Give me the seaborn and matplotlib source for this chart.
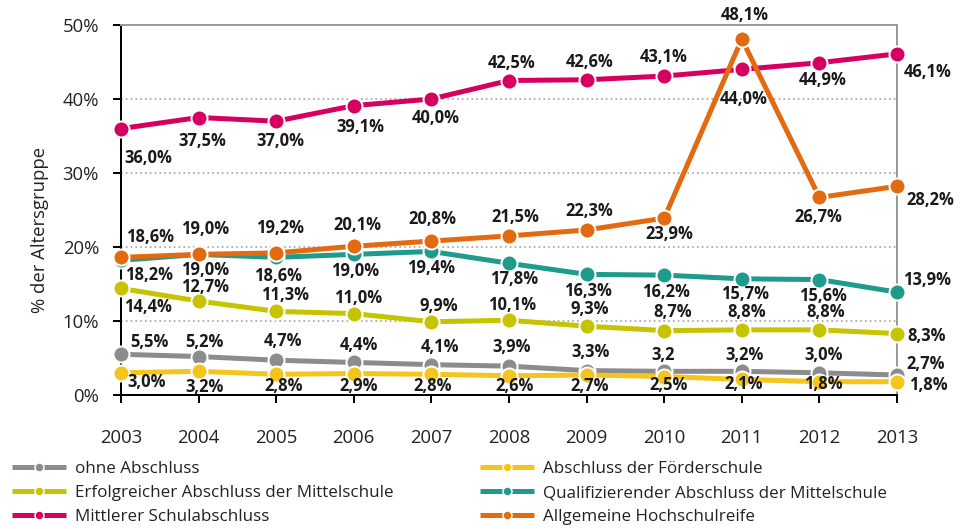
import numpy as np
import pandas as pd
import matplotlib
matplotlib.use("Agg")
import matplotlib.pyplot as plt
from matplotlib.lines import Line2D
import seaborn as sns

years = [2003, 2004, 2005, 2006, 2007, 2008, 2009, 2010, 2011, 2012, 2013]
series_names = ["ohne Abschluss", "Abschluss der Förderschule",
                "Erfolgreicher Abschluss der Mittelschule",
                "Qualifizierender Abschluss der Mittelschule",
                "Mittlerer Schulabschluss", "Allgemeine Hochschulreife"]
ohne = [5.5, 5.2, 4.7, 4.4, 4.1, 3.9, 3.3, 3.2, 3.2, 3.0, 2.7]
foerder = [3.0, 3.2, 2.8, 2.9, 2.8, 2.6, 2.7, 2.5, 2.1, 1.8, 1.8]
erfolg = [14.4, 12.7, 11.3, 11.0, 9.9, 10.1, 9.3, 8.7, 8.8, 8.8, 8.3]
quali = [18.2, 19.0, 18.6, 19.0, 19.4, 17.8, 16.3, 16.2, 15.7, 15.6, 13.9]
mittlerer = [36.0, 37.5, 37.0, 39.1, 40.0, 42.5, 42.6, 43.1, 44.0, 44.9, 46.1]
abitur = [18.6, 19.0, 19.2, 20.1, 20.8, 21.5, 22.3, 23.9, 48.1, 26.7, 28.2]
yticks = [0, 10, 20, 30, 40, 50]
ytick_labels = ["0%", "10%", "20%", "30%", "40%", "50%"]
ylabel = "% der Altersgruppe"

values = [ohne, foerder, erfolg, quali, mittlerer, abitur]
colors = ["#8c8c8c", "#f4c51c", "#c6c300", "#1f9b8b", "#d5005f", "#e26a10"]
palette = dict(zip(series_names, colors))

# label offsets in pixels (dx, dy up-positive)
offsets = {
    "Mittlerer Schulabschluss": [(27, -29), (4, -24), (4, -20), (7, -21), (4, -19), (3, 18), (3, 18), (-1, 19), (2, -30), (3, -17), (31, -18)],
    "Allgemeine Hochschulreife": [(29, 20), (6, 25), (4, 25), (4, 21), (1, 22), (6, 19), (3, 19), (5, -16), (3, 24), (-1, -20), (33, -14)],
    "Qualifizierender Abschluss der Mittelschule": [(28, -15), (6, -16), (2, -19), (1, -17), (0, -17), (5, -16), (1, -17), (2, -17), (3, -15), (4, -16), (30, 12)],
    "Erfolgreicher Abschluss der Mittelschule": [(27, -19), (6, 14), (9, 16), (4, 16), (7, 16), (3, 15), (3, 17), (8, 19), (5, 18), (6, 18), (30, -2)],
    "ohne Abschluss": [(28, 12), (6, 15), (7, 19), (5, 17), (9, 18), (3, 19), (4, 19), (-1, 16), (3, 16), (4, 18), (29, 11)],
    "Abschluss der Förderschule": [(26, -9), (6, -16), (7, -12), (5, -12), (1, -12), (6, -10), (3, -11), (4, -8), (2, -5), (4, -2), (31, -3)],
}
no_percent = {("ohne Abschluss", 2010)}

rows = []
for name, vals in zip(series_names, values):
    for y, v in zip(years, vals):
        rows.append({"Jahr": y, "Wert": v, "Reihe": name})
df = pd.DataFrame(rows)

DPI = 72
W, H = 966, 529
sns.set_theme(style="white")
plt.rcParams["font.family"] = ["Open Sans", "DejaVu Sans"]
fig = plt.figure(figsize=(W / DPI, H / DPI), dpi=DPI)
ax = fig.add_axes([121 / W, (H - 395) / H, (897 - 121) / W, (395 - 25) / H])

sns.lineplot(data=df, x="Jahr", y="Wert", hue="Reihe", hue_order=series_names,
             palette=palette, marker="o", markersize=16, markeredgecolor="white",
             markeredgewidth=2, linewidth=5, legend=False, ax=ax)
for ln in ax.lines:
    ln.set_clip_on(False)
    ln.set_zorder(3)
    ln.set_solid_capstyle("butt")

ax.set_xlim(2003, 2013)
ax.set_ylim(0, 50)
ax.set_xticks(years)
ax.set_xticklabels([str(y) for y in years], fontsize=18.5, color="#222222")
ax.set_yticks(yticks)
ax.set_yticklabels(ytick_labels, fontsize=18.5, color="#222222")
ax.set_xlabel("")
ax.set_ylabel("")
ax.tick_params(axis="x", direction="out", length=8, width=2, color="black", pad=26, bottom=True)
ax.tick_params(axis="y", direction="out", length=8, width=2, color="black", pad=14, left=True)

for yv in [10, 20, 30, 40]:
    ax.axhline(yv, color="#9a9a9a", lw=1.6, ls=(0, (1, 2)), zorder=1)

for s in ["left", "bottom"]:
    ax.spines[s].set_color("black")
    ax.spines[s].set_linewidth(2)
for s in ["top", "right"]:
    ax.spines[s].set_color("#9a9a9a")
    ax.spines[s].set_linewidth(2)
    ax.spines[s].set_visible(True)

for name, vals in zip(series_names, values):
    for y, v, (dx, dy) in zip(years, vals, offsets[name]):
        txt = f"{v:.1f}".replace(".", ",")
        if (name, y) not in no_percent:
            txt += "%"
        ax.annotate(txt, xy=(y, v), xytext=(dx, dy), textcoords="offset points",
                    ha="center", va="center", fontsize=16.5, fontweight="bold",
                    color="#1a1a1a", annotation_clip=False, zorder=5)

fig.text(40 / W, 1 - 230 / H, ylabel, rotation=90, ha="center", va="center",
         fontsize=18.5, color="#222222")

def handle(c):
    return Line2D([0], [0], color=c, lw=5, marker="o", markersize=9,
                  markeredgecolor="white", markeredgewidth=1.5, solid_capstyle="butt")

left_idx = [0, 2, 4]
right_idx = [1, 3, 5]
for idx, x0 in [(left_idx, 12), (right_idx, 480)]:
    leg = fig.legend([handle(colors[i]) for i in idx], [series_names[i] for i in idx],
                     loc="center left", bbox_to_anchor=(x0 / W, 1 - 493 / H),
                     frameon=False, fontsize=17, handlelength=3.2, handletextpad=0.5,
                     labelspacing=0.46, borderpad=0, borderaxespad=0)
    for t in leg.get_texts():
        t.set_color("#222222")

fig.savefig("out.png", dpi=DPI)
